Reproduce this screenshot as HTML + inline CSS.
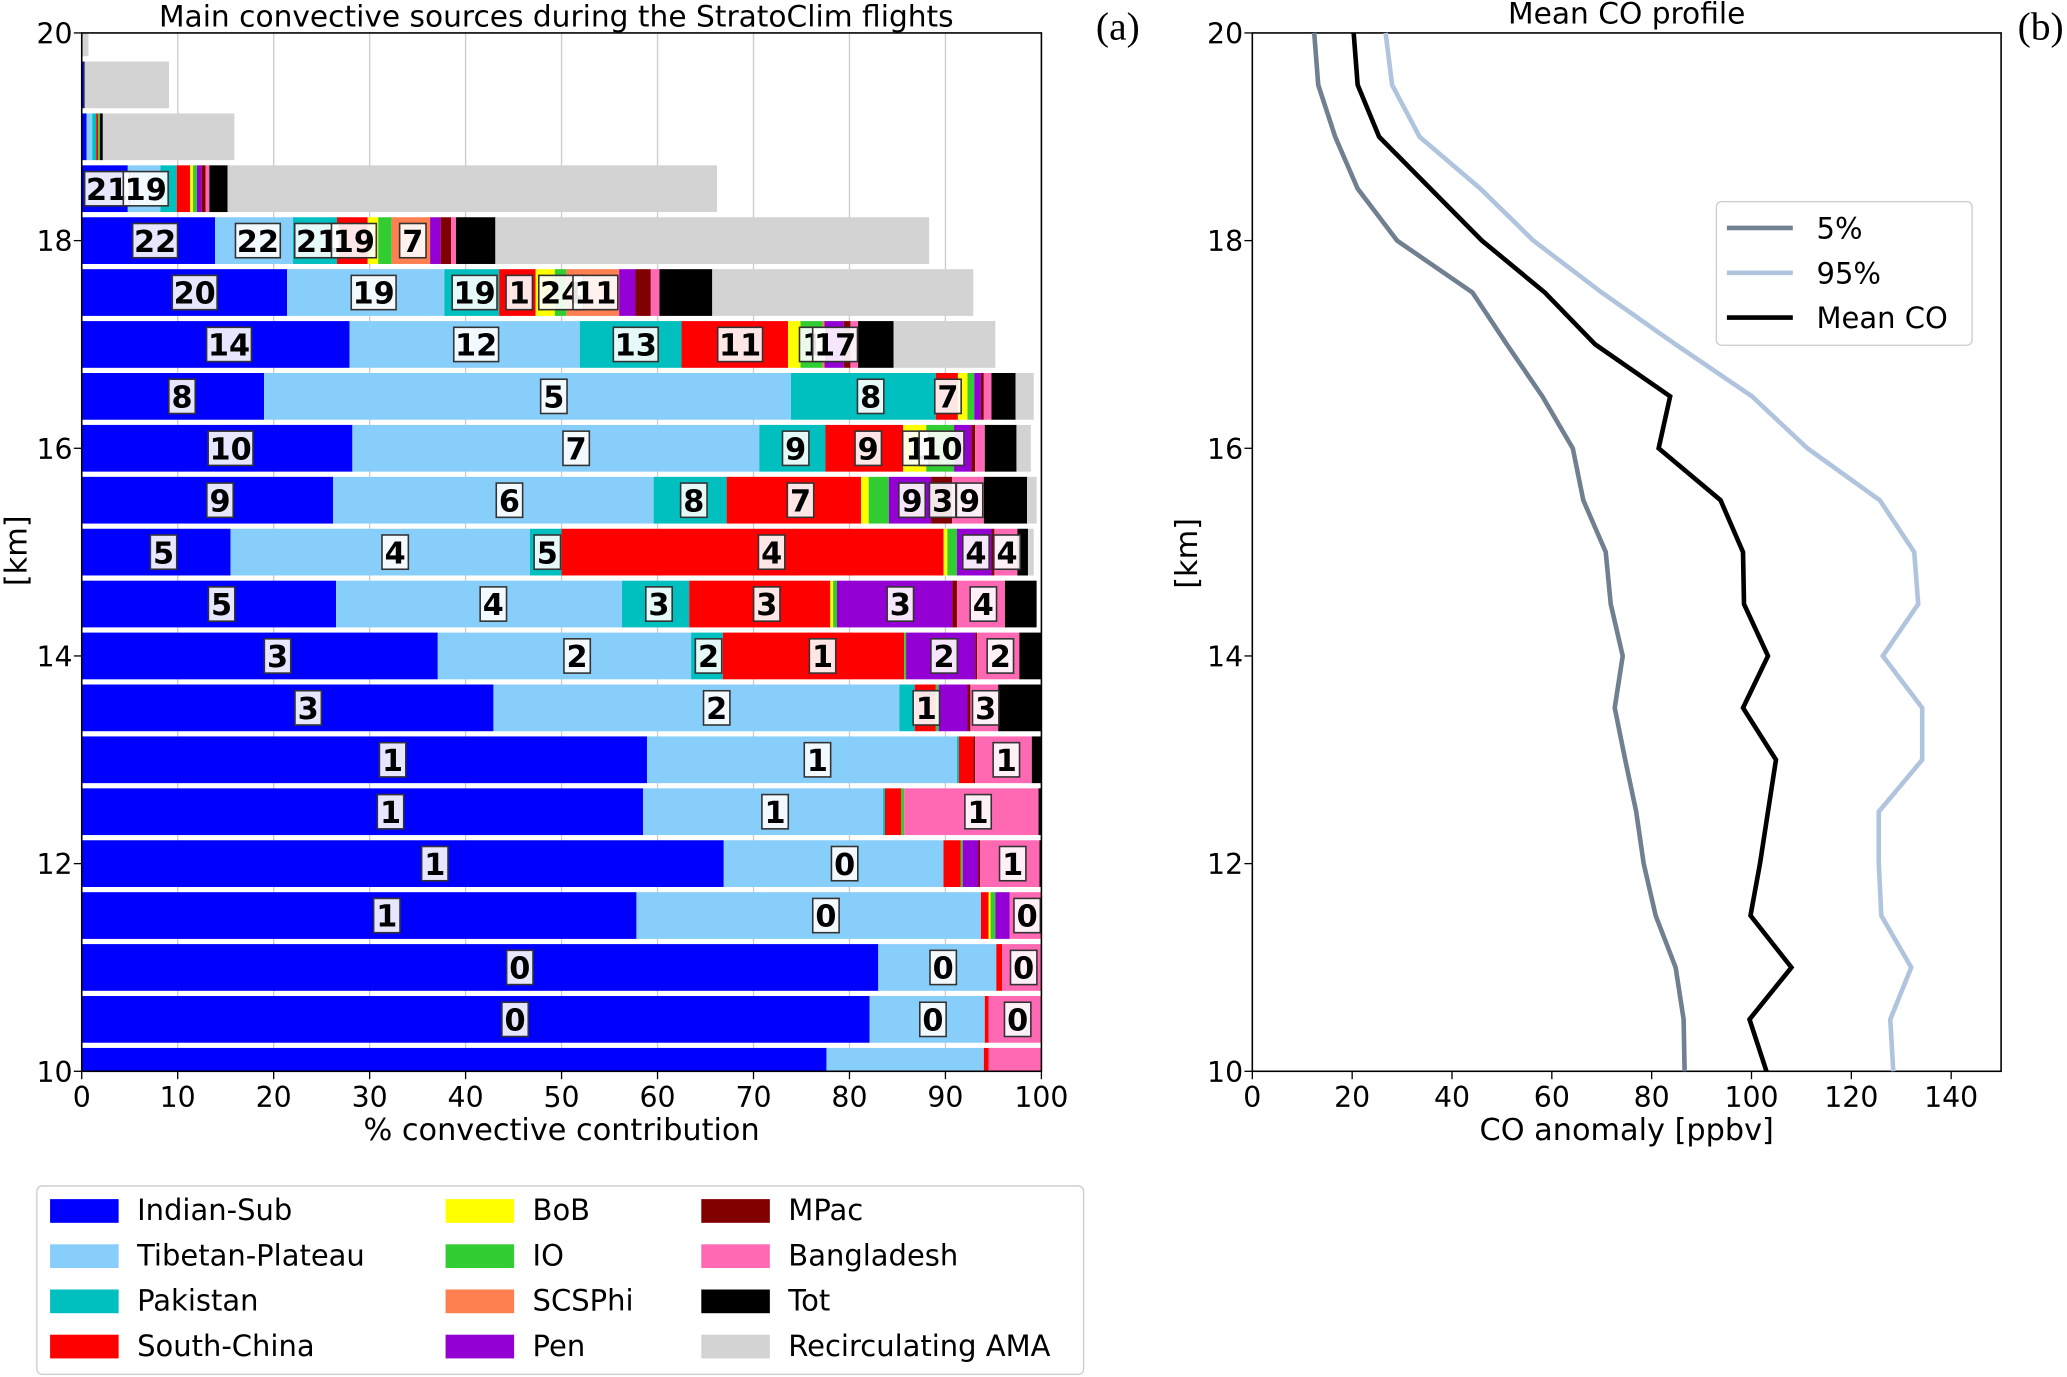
<!DOCTYPE html>
<html><head><meta charset="utf-8">
<style>
html,body{margin:0;padding:0;background:#fff;}
svg{display:block;font-family:"DejaVu Sans","Liberation Sans",sans-serif;}
</style></head>
<body>
<svg id="fig" width="2067" height="1377" viewBox="0 0 1568 1045" preserveAspectRatio="none" xmlns="http://www.w3.org/2000/svg">
<g id="left"></g>
<g id="right"></g>
<g id="legend"></g>
</svg>
<script>
const NS="http://www.w3.org/2000/svg";
const sources=["Indian-Sub","Tibetan-Plateau","Pakistan","South-China","BoB","IO","SCSPhi","Pen","MPac","Bangladesh","Tot","Recirculating AMA"];
const colors=["#0000ff","#87cefa","#00bfbf","#ff0000","#ffff00","#32cd32","#ff7f50","#9400d3","#800000","#ff69b4","#000000","#d3d3d3"];
const altitudes=[10,10.5,11,11.5,12,12.5,13,13.5,14,14.5,15,15.5,16,16.5,17,17.5,18,18.5,19,19.5,20];
const cumulative=[
[77.6,94,94,94.5,94.5,94.5,94.5,94.5,94.5,100,100,100],
[82.1,94.1,94.1,94.5,94.5,94.5,94.5,94.5,94.5,100,100,100],
[83,95.3,95.3,95.9,95.9,95.9,95.9,95.9,95.9,100,100,100],
[57.8,93.7,93.7,94.5,94.7,95.2,95.2,96.7,96.7,100,100,100],
[66.9,89.8,89.8,91.6,91.6,91.8,91.8,93.4,93.6,99.8,100,100],
[58.5,83.5,83.7,85.4,85.4,85.7,85.7,85.7,85.7,99.7,100,100],
[58.9,91.2,91.4,92.9,92.9,92.9,92.9,92.9,93.1,99,100,100],
[42.9,85.2,86.8,89,89,89.3,89.3,92.3,92.6,95.5,100,100],
[37.1,63.5,66.8,85.7,85.7,85.9,85.9,93.1,93.3,97.7,100,100],
[26.5,56.3,63.3,78,78.3,78.7,78.7,90.7,91.2,96.2,99.5,99.5],
[15.5,46.7,50,89.8,90.2,91.2,91.2,94.8,95.1,97.5,98.6,99.2],
[26.2,59.6,67.2,81.2,82,84.1,84.1,88.5,90.7,94,98.5,99.5],
[28.2,70.6,77.5,85.6,88,90.9,90.9,92.7,93.1,94.1,97.4,98.9],
[19,73.9,89,91.3,92.3,93,93,93.7,94,94.8,97.3,99.2],
[27.9,51.9,62.5,73.6,74.9,77.2,77.4,79.4,80.1,80.9,84.6,95.2],
[21.4,37.8,43.5,47.3,49.3,50.5,56,57.7,59.3,60.2,65.7,92.9],
[13.9,22,26.6,29.8,30.9,32.3,36.3,37.4,38.5,39,43.1,88.3],
[4.8,8.2,9.9,11.3,11.6,12,12,12.5,12.9,13.3,15.2,66.2],
[0.5,1.1,1.5,1.7,1.7,1.9,1.9,1.9,1.9,1.9,2.2,15.9],
[0.2,0.2,0.2,0.2,0.2,0.2,0.2,0.2,0.2,0.2,0.3,9.1],
[0,0,0,0,0,0,0,0,0,0,0,0.7]];
const barLabels=[
[1,0,"0"],[1,1,"0"],[1,9,"0"],[2,0,"0"],[2,1,"0"],[2,9,"0"],
[3,0,"1"],[3,1,"0"],[3,9,"0"],[4,0,"1"],[4,1,"0"],[4,9,"1"],
[5,0,"1"],[5,1,"1"],[5,9,"1"],[6,0,"1"],[6,1,"1"],[6,9,"1"],
[7,0,"3"],[7,1,"2"],[7,3,"1"],[7,9,"3"],
[8,0,"3"],[8,1,"2"],[8,2,"2"],[8,3,"1"],[8,7,"2"],[8,9,"2"],
[9,0,"5"],[9,1,"4"],[9,2,"3"],[9,3,"3"],[9,7,"3"],[9,9,"4"],
[10,0,"5"],[10,1,"4"],[10,2,"5"],[10,3,"4"],[10,7,"4"],[10,9,"4"],
[11,0,"9"],[11,1,"6"],[11,2,"8"],[11,3,"7"],[11,7,"9"],[11,8,"3"],[11,9,"9"],
[12,0,"10"],[12,1,"7"],[12,2,"9"],[12,3,"9"],[12,4,"1"],[12,5,"10"],
[13,0,"8"],[13,1,"5"],[13,2,"8"],[13,3,"7"],
[14,0,"14"],[14,1,"12"],[14,2,"13"],[14,3,"11"],[14,5,"1"],[14,7,"17"],
[15,0,"20"],[15,1,"19"],[15,2,"19"],[15,3,"1"],[15,5,"24"],[15,6,"11"],
[16,0,"22"],[16,1,"22"],[16,2,"21"],[16,3,"19"],[16,6,"7"],
[17,0,"21"],[17,1,"19"]];
const xTicks=[0,10,20,30,40,50,60,70,80,90,100];
const yTicks=[10,12,14,16,18,20];
const coAlt=[10,10.5,11,11.5,12,12.5,13,13.5,14,14.5,15,15.5,16,16.5,17,17.5,18,18.5,19,19.5,20];
const co5=[86.6,86.4,84.8,80.8,78.4,76.9,74.7,72.6,74.2,71.8,70.8,66.3,64.2,58.1,51,44.1,29,21.1,16.6,13.2,12.4];
const co95=[128.4,127.8,132,126,125.5,125.5,134.2,134.2,126.3,133.4,132.6,125.7,111.2,100.1,84.8,70,56.3,45.7,33.5,28,26.7];
const coMean=[103,99.6,108,99.8,101.7,103.3,104.9,98.3,103.3,98.5,98.3,93.8,81.4,83.7,68.7,58.6,46,35.7,25.4,21.1,20.3];
const coTicks=[0,20,40,60,80,100,120,140];

function el(tag,attrs,parent,text){const e=document.createElementNS(NS,tag);for(const k in attrs)e.setAttribute(k,attrs[k]);if(text!==undefined)e.textContent=text;parent.appendChild(e);return e;}
const L=document.getElementById('left'),R=document.getElementById('right'),G=document.getElementById('legend');
const X0=62,X1=790,YT=25,YB=813;
const xs=v=>X0+(v/100)*(X1-X0);
const ys=v=>YB-(v-10)/10*(YB-YT);
const defs=el('defs',{},document.getElementById('fig'));
const cp=el('clipPath',{id:'cl'},defs);el('rect',{x:X0,y:YT,width:X1-X0,height:YB-YT},cp);
xTicks.forEach(t=>{if(t>0&&t<100){const g=el('line',{x1:xs(t),x2:xs(t),y1:YT,y2:YB,stroke:'#cccccc','stroke-width':1},L);

}});
const bars=el('g',{'clip-path':'url(#cl)'},L);
const bh=0.45;
altitudes.forEach((a,i)=>{let prev=0;cumulative[i].forEach((c,j)=>{if(c-prev>0){const r=el('rect',{x:xs(prev),y:ys(a+bh/2),width:xs(c)-xs(prev),height:ys(a-bh/2)-ys(a+bh/2),fill:colors[j]},bars);

}prev=c;});});
barLabels.forEach(([i,j,t])=>{const c=cumulative[i];const s=j?c[j-1]:0,e=c[j];const cx=xs(s+(e-s)*0.55),cy=ys(altitudes[i]);
const w=t.length*14+6;
const b=el('rect',{x:cx-w/2,y:cy-13,width:w,height:26,fill:'#ffffff','fill-opacity':0.9,stroke:'#333',"stroke-width":1.2},L);


const tx=el('text',{x:cx,y:cy+8.5,'text-anchor':'middle','font-size':23,'font-weight':'bold',fill:'#000'},L,t);

});
el('rect',{x:X0,y:YT,width:X1-X0,height:YB-YT,fill:'none',stroke:'#000','stroke-width':1.2},L);
xTicks.forEach(t=>{el('line',{x1:xs(t),x2:xs(t),y1:YB,y2:YB+6,stroke:'#000'},L);const tl=el('text',{x:xs(t),y:YB+27,'text-anchor':'middle','font-size':21.5},L,t);

});
yTicks.forEach(t=>{el('line',{x1:X0-6,x2:X0,y1:ys(t),y2:ys(t),stroke:'#000'},L);const tl=el('text',{x:X0-7,y:ys(t)+8,'text-anchor':'end','font-size':21.5},L,t);

});
el('text',{x:(X0+X1)/2,y:YB+52,'text-anchor':'middle','font-size':23,},L,'% convective contribution');
el('text',{x:0,y:0,transform:'translate(20,418) rotate(-90)','text-anchor':'middle','font-size':23,},L,'[km]');
el('text',{x:(X0+X1)/2-4,y:20,'text-anchor':'middle','font-size':22.5,},L,'Main convective sources during the StratoClim flights');
el('text',{x:848,y:30,'text-anchor':'middle','font-size':30,'font-family':'"Liberation Serif",serif',},L,'(a)');

const RX0=950,RX1=1518;
const cx=v=>RX0+v/150*(RX1-RX0);
el('rect',{x:RX0,y:YT,width:RX1-RX0,height:YB-YT,fill:'none',stroke:'#000','stroke-width':1.2},R);
coTicks.forEach(t=>{el('line',{x1:cx(t),x2:cx(t),y1:YB,y2:YB+6,stroke:'#000'},R);const tl=el('text',{x:cx(t),y:YB+27,'text-anchor':'middle','font-size':21.5},R,t);

});
yTicks.forEach(t=>{el('line',{x1:RX0-6,x2:RX0,y1:ys(t),y2:ys(t),stroke:'#000'},R);const tl=el('text',{x:RX0-7,y:ys(t)+8,'text-anchor':'end','font-size':21.5},R,t);

});
const series=[[co5,'#708090','5%'],[co95,'#b0c4de','95%'],[coMean,'#000000','Mean CO']];
series.forEach(([d,c,n])=>{const p=el('polyline',{points:d.map((v,i)=>cx(v)+','+ys(coAlt[i])).join(' '),fill:'none',stroke:c,'stroke-width':3.5,'stroke-linejoin':'miter'},R);

});
el('text',{x:(RX0+RX1)/2,y:YB+52,'text-anchor':'middle','font-size':23,},R,'CO anomaly [ppbv]');
el('text',{x:0,y:0,transform:'translate(908,420) rotate(-90)','text-anchor':'middle','font-size':23,},R,'[km]');
el('text',{x:(RX0+RX1)/2,y:18,'text-anchor':'middle','font-size':22.5,},R,'Mean CO profile');
el('text',{x:1548,y:30,'text-anchor':'middle','font-size':30,'font-family':'"Liberation Serif",serif',},R,'(b)');
const rl=el('g',{},R);
el('rect',{x:1302,y:153,width:194,height:109,rx:4,fill:'#fff',stroke:'#ccc'},rl);
series.forEach(([d,c,n],i)=>{const y=173+i*34;el('line',{x1:1310,x2:1360,y1:y,y2:y,stroke:c,'stroke-width':3.5},rl);const t=el('text',{x:1378,y:y+8,'font-size':22},rl,n);

});

el('rect',{x:28,y:900,width:794,height:143,rx:4,fill:'#fff',stroke:'#ccc'},G);
const colX=[38,338,532];
sources.forEach((s,i)=>{const col=Math.floor(i/4),row=i%4;const x=colX[col],y=918+row*34.3;
el('rect',{x:x,y:y-8,width:52,height:18,fill:colors[i]},G);
const t=el('text',{x:x+66,y:y+8,'font-size':22},G,s);

});
</script>
</body></html>
